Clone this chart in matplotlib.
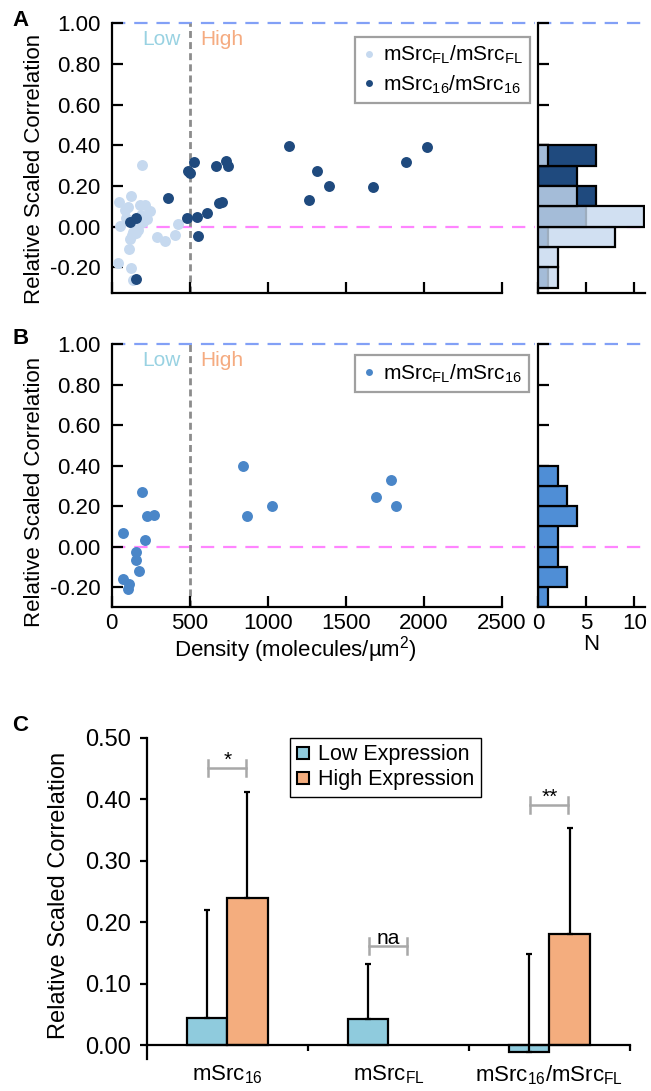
import matplotlib
matplotlib.use('Agg')
import matplotlib.pyplot as plt
from matplotlib.lines import Line2D
import numpy as np

plt.rcParams['font.family'] = ['Liberation Sans', 'DejaVu Sans']
plt.rcParams['mathtext.default'] = 'regular'
plt.rcParams['axes.unicode_minus'] = False

# ---- panel A: mSrcFL/mSrcFL (light) and mSrc16/mSrc16 (dark)
fl_density = [192, 49, 122, 213, 180,
              85, 106, 245, 53, 423, 224, 203, 171, 185, 92, 150,
              128, 288, 342, 406, 139, 171, 155, 117,
              113, 42, 122, 135]
fl_corr = [0.304, 0.123, 0.151, 0.107, 0.105,
           0.082, 0.099, 0.077, 0.005, 0.013, 0.040, 0.025, 0.004, 0.060, 0.045, 0.020,
           -0.041, -0.049, -0.069, -0.041, -0.025, -0.016, -0.032, -0.060,
           -0.107, -0.178, -0.203, -0.260]

s16_density = [117, 154, 359, 154, 491, 528, 481, 547, 551, 609, 667, 688,
               709, 733, 747, 1138, 1265, 1314, 1393, 1677, 1888, 2019, 505]
s16_corr = [0.025, 0.041, 0.143, -0.255, 0.276, 0.318, 0.041, 0.046, -0.046,
            0.069, 0.298, 0.115, 0.123, 0.321, 0.301, 0.395, 0.130, 0.276,
            0.198, 0.196, 0.319, 0.390, 0.265]

# ---- panel B: mSrcFL/mSrc16
mix_density = [74, 192, 224, 271, 213, 156, 156, 175, 74, 113, 102,
               844, 869, 1026, 1790, 1694, 1822]
mix_corr = [0.069, 0.271, 0.151, 0.155, 0.033, -0.025, -0.066, -0.120,
            -0.161, -0.186, -0.209, 0.398, 0.151, 0.202, 0.329, 0.247, 0.198]

# ---- panel C
groups = ['mSrc$_{16}$', 'mSrc$_{FL}$', 'mSrc$_{16}$/mSrc$_{FL}$']
low_mean = [0.044, 0.043, -0.010]
low_err = [0.176, 0.090, 0.158]
high_mean = [0.239, np.nan, 0.181]
high_err = [0.172, np.nan, 0.173]
signif = ['*', 'na', '**']
signif_y = [0.45, 0.161, 0.39]

bins = np.arange(-0.3, 0.45, 0.1)
yticks = [-0.2, 0, 0.2, 0.4, 0.6, 0.8, 1.0]

c_fl = '#c6d9ef'
c_16 = '#1f4a7e'
c_mix = '#4a86c8'
c_low = '#8fcbdd'
c_high = '#f4ad7e'

W, H = 651, 1091
fig = plt.figure(figsize=(W / 100, H / 100), dpi=100)


def frac(x0, y0, x1, y1):
    return [x0 / W, 1 - y1 / H, (x1 - x0) / W, (y1 - y0) / H]


def style_ax(ax):
    for s in ['top', 'right']:
        ax.spines[s].set_visible(False)
    for s in ['left', 'bottom']:
        ax.spines[s].set_linewidth(1.6)
    ax.tick_params(direction='in', length=8, width=1.6, labelsize=16)


def ref_lines(ax):
    ax.axhline(1.0, color='#82a0f6', lw=1.6, dashes=(6, 4), zorder=1, clip_on=False)
    ax.axhline(0.0, color='#ff85ff', lw=1.6, dashes=(6, 4), zorder=1)


def scatter_panel(ax, ylo, show_x):
    style_ax(ax)
    ax.set_xlim(0, 2713)
    ax.set_ylim(ylo, 1.0)
    ax.spines['bottom'].set_bounds(0, 2500)
    ax.set_xticks([0, 500, 1000, 1500, 2000, 2500])
    ax.set_yticks(yticks)
    ax.set_yticklabels(['%.2f' % v for v in yticks])
    ax.tick_params(axis='y', pad=8)
    ax.tick_params(axis='x', pad=4)
    if not show_x:
        ax.set_xticklabels([])
    ref_lines(ax)
    ax.axvline(500, color='#8c8c8c', lw=2, dashes=(2.5, 1.5), zorder=1)
    ax.text(440, 0.918, 'Low', color='#99d2e2', fontsize=15, ha='right', va='center')
    ax.text(570, 0.918, 'High', color='#f5ab80', fontsize=15, ha='left', va='center')
    ax.set_ylabel('Relative Scaled Correlation', fontsize=16)


def hist_panel(ax, ylo, show_x):
    style_ax(ax)
    ax.set_xlim(0, 11.1)
    ax.set_ylim(ylo, 1.0)
    ax.set_xticks([0, 5, 10])
    ax.set_yticks(yticks)
    ax.set_yticklabels([])
    if not show_x:
        ax.set_xticklabels([])
    ax.tick_params(axis='x', pad=4)
    ref_lines(ax)


# ---- A
axA = fig.add_axes(frac(111.7, 23.3, 535, 293.3))
scatter_panel(axA, -0.327, False)
axA.scatter(fl_density, fl_corr, s=62, color=c_fl, lw=0, zorder=3)
axA.scatter(s16_density, s16_corr, s=62, color=c_16, lw=0, zorder=4)
axA.yaxis.set_label_coords(-0.157, 0.46)
hA = [Line2D([], [], ls='none', marker='o', ms=5, color=c_fl, mec='none'),
      Line2D([], [], ls='none', marker='o', ms=5, color=c_16, mec='none')]
legA = axA.legend(hA, ['mSrc$_{FL}$/mSrc$_{FL}$', 'mSrc$_{16}$/mSrc$_{16}$'],
                  loc='upper left', bbox_to_anchor=(0.575, 0.95), borderaxespad=0,
                  fontsize=15, fancybox=False, framealpha=1, handlelength=0.6,
                  handletextpad=0.4, borderpad=0.35, labelspacing=0.35)
legA.get_frame().set_edgecolor('#a0a0a0')
legA.get_frame().set_linewidth(1.6)

axAh = fig.add_axes(frac(538.3, 23.3, 645, 293.3))
hist_panel(axAh, -0.327, False)
n16, _ = np.histogram(s16_corr, bins=bins)
nfl, _ = np.histogram(fl_corr, bins=bins)
axAh.barh(bins[:-1], n16, height=0.1, align='edge', color=c_16, edgecolor='k', lw=1.6, zorder=2)
axAh.barh(bins[:-1], nfl, height=0.1, align='edge', facecolor=(0.776, 0.851, 0.937, 0.8),
          edgecolor='k', lw=1.6, zorder=3)

# ---- B
axB = fig.add_axes(frac(111.7, 344, 535, 607.3))
scatter_panel(axB, -0.3, True)
axB.scatter(mix_density, mix_corr, s=62, color=c_mix, lw=0, zorder=3)
axB.yaxis.set_label_coords(-0.157, 0.44)
axB.set_xlabel('Density (molecules/µm$^2$)', fontsize=16)
axB.xaxis.set_label_coords(0.435, -0.1)
hB = [Line2D([], [], ls='none', marker='o', ms=5, color=c_mix, mec='none')]
legB = axB.legend(hB, ['mSrc$_{FL}$/mSrc$_{16}$'],
                  loc='upper left', bbox_to_anchor=(0.575, 0.958), borderaxespad=0,
                  fontsize=15, fancybox=False, framealpha=1, handlelength=0.6,
                  handletextpad=0.4, borderpad=0.35)
legB.get_frame().set_edgecolor('#a0a0a0')
legB.get_frame().set_linewidth(1.6)

axBh = fig.add_axes(frac(538.3, 344, 645, 607.3))
hist_panel(axBh, -0.3, True)
nmix, _ = np.histogram(mix_corr, bins=bins)
axBh.barh(bins[:-1], nmix, height=0.1, align='edge', color='#4f8ed6', edgecolor='k', lw=1.6, zorder=2)
axBh.set_xlabel('N', fontsize=16)
axBh.xaxis.set_label_coords(0.5, -0.1)

# ---- C
axC = fig.add_axes(frac(146.7, 737.7, 630, 1059))
for s in ['top', 'right']:
    axC.spines[s].set_visible(False)
for s in ['left', 'bottom']:
    axC.spines[s].set_linewidth(1.6)
axC.spines['bottom'].set_position(('data', 0))
axC.set_xlim(-0.5, 2.5)
axC.set_ylim(-0.022, 0.5)
cticks = [0, 0.1, 0.2, 0.3, 0.4, 0.5]
axC.set_yticks(cticks)
axC.set_yticklabels(['%.2f' % v for v in cticks])
axC.tick_params(axis='y', direction='out', length=5, width=1.6, labelsize=17, pad=6)
x = np.arange(len(groups))
bw = 0.25
axC.bar(x - bw / 2, low_mean, bw, color=c_low, edgecolor='k', lw=1.6, zorder=2)
axC.bar(x + bw / 2, high_mean, bw, color=c_high, edgecolor='k', lw=1.6, zorder=2)
axC.errorbar(x - bw / 2, low_mean, yerr=[np.zeros(3), low_err], fmt='none', ecolor='k',
             elinewidth=1.6, capsize=2.5, capthick=1.6, zorder=3)
axC.errorbar(x + bw / 2, high_mean, yerr=[np.zeros(3), high_err], fmt='none', ecolor='k',
             elinewidth=1.6, capsize=2.5, capthick=1.6, zorder=3)
axC.set_xticks(x)
axC.set_xticklabels(groups, fontsize=16)
axC.tick_params(axis='x', which='major', length=0, pad=13)
axC.set_xticks([0.5, 1.5, 2.5], minor=True)
axC.tick_params(axis='x', which='minor', direction='out', length=4, width=1.6)
for i in range(len(groups)):
    yb = signif_y[i]
    x1, x2 = x[i] - 0.118, x[i] + 0.118
    axC.plot([x1, x2], [yb, yb], color='#a8a8a8', lw=1.8, zorder=3)
    axC.plot([x1, x1], [yb - 0.013, yb + 0.013], color='#a8a8a8', lw=1.8, zorder=3)
    axC.plot([x2, x2], [yb - 0.013, yb + 0.013], color='#a8a8a8', lw=1.8, zorder=3)
    axC.text(x[i], yb + 0.004, signif[i], ha='center', va='baseline', fontsize=15)
axC.set_ylabel('Relative Scaled Correlation', fontsize=17)
axC.yaxis.set_label_coords(-0.159, 0.51)
hC = [Line2D([], [], ls='none', marker='s', ms=8, color=c_low, mec='k', mew=1.5),
      Line2D([], [], ls='none', marker='s', ms=8, color=c_high, mec='k', mew=1.5)]
legC = axC.legend(hC, ['Low Expression', 'High Expression'], loc='upper left',
                  bbox_to_anchor=(0.2965, 1.0), borderaxespad=0, fontsize=15.5,
                  fancybox=False, framealpha=1, handlelength=0.6, handletextpad=0.4,
                  borderpad=0.3, labelspacing=0.2)
legC.get_frame().set_edgecolor('k')
legC.get_frame().set_linewidth(1.0)

# panel letters
fig.text(12 / W, 1 - 10 / H, 'A', fontsize=16, fontweight='bold', va='top', ha='left')
fig.text(12 / W, 1 - 328 / H, 'B', fontsize=16, fontweight='bold', va='top', ha='left')
fig.text(12 / W, 1 - 715 / H, 'C', fontsize=16, fontweight='bold', va='top', ha='left')

fig.savefig('out.png', dpi=100)
